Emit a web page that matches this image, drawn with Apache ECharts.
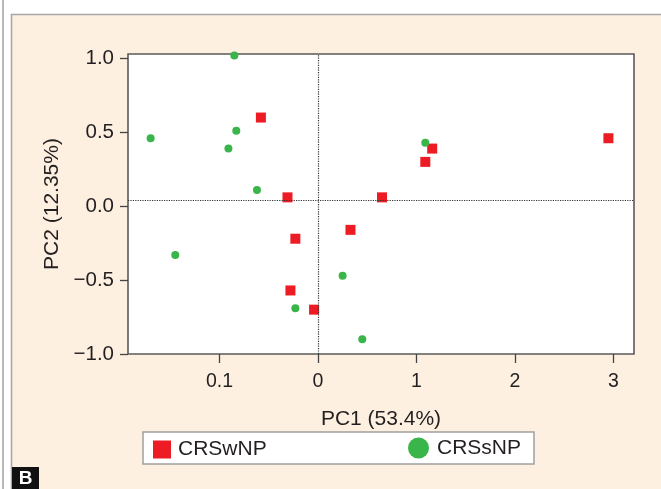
<!DOCTYPE html>
<html>
<head>
<meta charset="utf-8">
<script src="https://cdn.jsdelivr.net/npm/echarts@6/dist/echarts.min.js"></script>
<style>
  html, body { margin: 0; padding: 0; background: #fff; }
  #chart { width: 661px; height: 489px; }
</style>
</head>
<body>
<div id="chart"></div>
<script>
// PCA scores: [PC1, PC2] per sample
const crswnp = [
  [-0.58, 0.60], [-0.31, 0.06], [-0.23, -0.22], [-0.28, -0.57], [-0.04, -0.70],
  [0.33, -0.16], [0.65, 0.06], [1.16, 0.39], [1.09, 0.30], [2.95, 0.46]
];
const crssnp = [
  [-0.85, 1.02], [-1.70, 0.46], [-0.83, 0.51], [-0.91, 0.39], [-0.62, 0.11],
  [-1.45, -0.33], [-0.23, -0.69], [0.25, -0.47], [0.45, -0.90], [1.09, 0.43]
];
const seriesNames = ['CRSwNP', 'CRSsNP'];

// Axis ticks and their printed labels
const xTickValues = [-1, 0, 1, 2, 3];
const xTickLabels = ['0.1', '0', '1', '2', '3'];
const yTickValues = [-1, -0.5, 0, 0.5, 1];
const yTickLabels = ['\u22121.0', '\u22120.5', '0.0', '0.5', '1.0'];
const xRange = [-1.93, 3.21];
const yRange = [-1.0, 1.03];
// Dotted reference lines
const refX = 0;
const refY = 0.04;

const axisNames = ['PC1 (53.4%)', 'PC2 (12.35%)'];

const FONT = '"Liberation Sans", Arial, Helvetica, sans-serif';
const RED = '#ED1C24';
const GREEN = '#39B54A';
const INK = '#231F20';

const chart = echarts.init(document.getElementById('chart'), null, { renderer: 'canvas' });

chart.setOption({
  backgroundColor: '#FDF0E1',
  animation: false,
  textStyle: { fontFamily: FONT },
  grid: {
    left: 128, top: 54, width: 506, height: 300,
    show: true, backgroundColor: '#fff',
    borderColor: '#5a5a5a', borderWidth: 1.6
  },
  xAxis: {
    type: 'value', min: xRange[0], max: xRange[1],
    axisLine: { show: false, onZero: false },
    splitLine: { show: false },
    axisTick: {
      show: true, inside: false, length: 9, customValues: xTickValues,
      lineStyle: { color: '#444', width: 1.3 }
    },
    axisLabel: {
      customValues: xTickValues, margin: 18,
      color: INK, fontSize: 19.5, fontFamily: FONT,
      formatter: v => xTickLabels[xTickValues.indexOf(v)]
    },
    name: axisNames[0], nameLocation: 'middle', nameGap: 55,
    nameTextStyle: { color: INK, fontSize: 21, fontFamily: FONT }
  },
  yAxis: {
    type: 'value', min: yRange[0], max: yRange[1],
    axisLine: { show: false, onZero: false },
    splitLine: { show: false },
    axisTick: {
      show: true, inside: false, length: 8, customValues: yTickValues,
      lineStyle: { color: '#444', width: 1.3 }
    },
    axisLabel: {
      customValues: yTickValues, margin: 14,
      color: INK, fontSize: 20.5, fontFamily: FONT,
      formatter: v => yTickLabels[yTickValues.indexOf(v)]
    },
    name: axisNames[1], nameLocation: 'middle', nameGap: 64,
    nameTextStyle: { color: INK, fontSize: 21, fontFamily: FONT }
  },
  legend: [
    {
      data: [seriesNames[0]], left: 153, top: 439, padding: 0,
      icon: 'rect', itemWidth: 18, itemHeight: 18,
      textStyle: { color: INK, fontSize: 21, fontFamily: FONT, padding: [0, 0, 0, 2] }
    },
    {
      data: [seriesNames[1]], left: 408, top: 437.5, padding: 0,
      icon: 'circle', itemWidth: 21, itemHeight: 21,
      textStyle: { color: INK, fontSize: 21, fontFamily: FONT, padding: [0, 0, 0, 3] }
    }
  ],
  graphic: {
    elements: [
      // white margins and panel rules
      { type: 'rect', shape: { x: 0, y: 0, width: 661, height: 14 }, style: { fill: '#fff' }, silent: true },
      { type: 'rect', shape: { x: 0, y: 0, width: 11, height: 489 }, style: { fill: '#fff' }, silent: true },
      { type: 'line', shape: { x1: 11, y1: 14.5, x2: 661, y2: 14.5 }, style: { stroke: '#a8a8a8', lineWidth: 1.6 }, silent: true },
      { type: 'line', shape: { x1: 11.5, y1: 14, x2: 11.5, y2: 489 }, style: { stroke: '#a8a8a8', lineWidth: 1.6 }, silent: true },
      { type: 'line', shape: { x1: 3, y1: 0, x2: 3, y2: 489 }, style: { stroke: '#a8a8a8', lineWidth: 1.6 }, silent: true },
      // legend frame
      { type: 'rect', z: 1, shape: { x: 143, y: 432, width: 391, height: 32 },
        style: { fill: '#fff', stroke: '#a0a0a0', lineWidth: 1.5 }, silent: true },
      // panel tag
      { type: 'rect', shape: { x: 12, y: 467, width: 27, height: 22 }, style: { fill: '#111' }, silent: true },
      { type: 'text', x: 25.5, y: 479, silent: true,
        style: { text: 'B', fill: '#fff', font: 'bold 19px ' + FONT, align: 'center', verticalAlign: 'middle' } }
    ]
  },
  series: [
    {
      name: seriesNames[0], type: 'scatter', data: crswnp,
      symbol: 'rect', symbolSize: 10,
      itemStyle: { color: RED, opacity: 1 },
      z: 3,
      markLine: {
        silent: true, symbol: 'none', animation: false,
        label: { show: false },
        lineStyle: { color: '#333', type: 'dotted', width: 1.2 },
        data: [{ xAxis: refX }, { yAxis: refY }]
      }
    },
    {
      name: seriesNames[1], type: 'scatter', data: crssnp,
      symbol: 'circle', symbolSize: 8,
      itemStyle: { color: GREEN, opacity: 1 },
      z: 3
    }
  ]
});
</script>
</body>
</html>
